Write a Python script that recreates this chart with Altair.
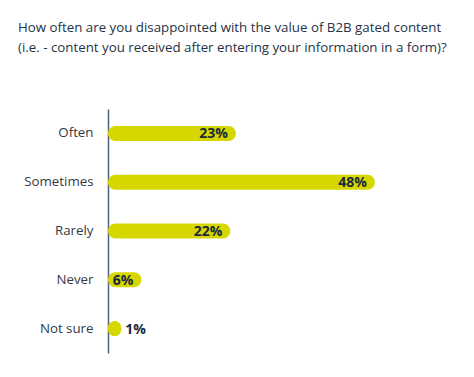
import altair as alt
import pandas as pd

categories = ["Often", "Sometimes", "Rarely", "Never", "Not sure"]
values = [23, 48, 22, 6, 1]
labels = ["23%", "48%", "22%", "6%", "1%"]

df = pd.DataFrame({"cat": categories, "value": values, "label": labels})

title_lines = [
    "How often are you disappointed with the value of B2B gated content",
    "(i.e. - content you received after entering your information in a form)?",
]

FONT = "Open Sans"

y_enc = alt.Y(
    "cat:N",
    sort=categories,
    title=None,
    scale=alt.Scale(paddingInner=0.69, paddingOuter=0.345),
    axis=alt.Axis(
        ticks=False,
        labelPadding=15,
        labelFontSize=13.3,
        labelFont=FONT,
        labelColor="#333a44",
        domainColor="#4b6278",
        domainWidth=1.5,
        grid=False,
    ),
)
x_scale = alt.Scale(domain=[0, 50], nice=False)

base = alt.Chart(df).transform_calculate(end="max(datum.value, 2.4)")

bars = base.mark_bar(color="#d7d700", cornerRadiusEnd=7.5, size=15).encode(
    y=y_enc,
    x=alt.X("zero:Q", scale=x_scale, axis=None, title=None),
    x2="end:Q",
).transform_calculate(zero="0")

inside = base.transform_filter("datum.value >= 5").mark_text(
    align="right", baseline="middle", dx=-8, dy=1, fontSize=14, fontWeight="bold",
    font=FONT, color="#1a2a3c"
).encode(y=alt.Y("cat:N", sort=categories), x=alt.X("end:Q", scale=x_scale), text="label:N")

outside = base.transform_filter("datum.value < 5").mark_text(
    align="left", baseline="middle", dx=4, dy=1, fontSize=14, fontWeight="bold",
    font=FONT, color="#1a2a3c"
).encode(y=alt.Y("cat:N", sort=categories), x=alt.X("end:Q", scale=x_scale), text="label:N")

chart = (
    alt.layer(bars, inside, outside)
    .properties(
        width=278,
        height=244,
        title=alt.Title(
            text=title_lines,
            anchor="start",
            frame="group",
            dx=-90,
            fontSize=13.3,
            font=FONT,
            fontWeight="normal",
            color="#1f3347",
            lineHeight=20,
            offset=55,
            limit=470,
        ),
        autosize=alt.AutoSizeParams(type="none"),
        padding={"left": 108, "top": 109, "right": 88, "bottom": 24},
    )
    .configure_view(stroke=None)
)

chart.save("out.html", embed_options={"renderer": "svg", "actions": False})
